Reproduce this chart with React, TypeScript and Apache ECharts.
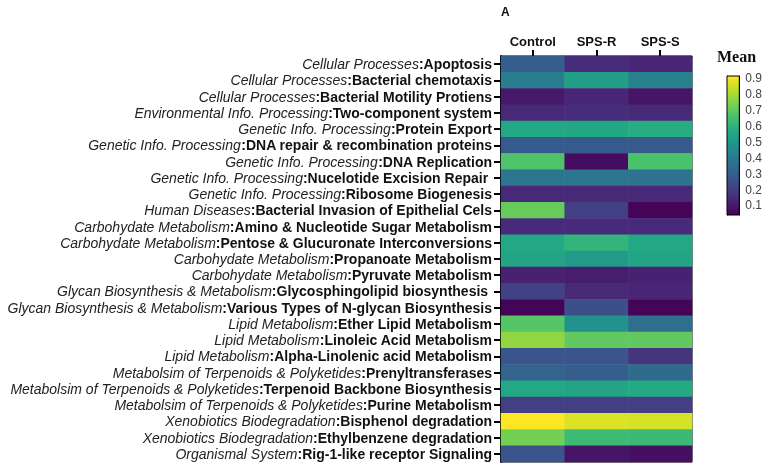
import React, { useEffect, useRef } from "react";
import * as echarts from "echarts";

const groups = ["Control", "SPS-R", "SPS-S"];

const categories = [
  "Cellular Processes",
  "Cellular Processes",
  "Cellular Processes",
  "Environmental Info. Processing",
  "Genetic Info. Processing",
  "Genetic Info. Processing",
  "Genetic Info. Processing",
  "Genetic Info. Processing",
  "Genetic Info. Processing",
  "Human Diseases",
  "Carbohydate Metabolism",
  "Carbohydate Metabolism",
  "Carbohydate Metabolism",
  "Carbohydate Metabolism",
  "Glycan Biosynthesis & Metabolism",
  "Glycan Biosynthesis & Metabolism",
  "Lipid Metabolism",
  "Lipid Metabolism",
  "Lipid Metabolism",
  "Metabolsim of Terpenoids & Polyketides",
  "Metabolsim of Terpenoids & Polyketides",
  "Metabolsim of Terpenoids & Polyketides",
  "Xenobiotics Biodegradation",
  "Xenobiotics Biodegradation",
  "Organismal System",
];

const pathways = [
  "Apoptosis",
  "Bacterial chemotaxis",
  "Bacterial Motility Protiens",
  "Two-component system",
  "Protein Export",
  "DNA repair & recombination proteins",
  "DNA Replication",
  "Nucelotide Excision Repair ",
  "Ribosome Biogenesis",
  "Bacterial Invasion of Epithelial Cels",
  "Amino & Nucleotide Sugar Metabolism",
  "Pentose & Glucuronate Interconversions",
  "Propanoate Metabolism",
  "Pyruvate Metabolism",
  "Glycosphingolipid biosynthesis ",
  "Various Types of N-glycan Biosynthesis",
  "Ether Lipid Metabolism",
  "Linoleic Acid Metabolism",
  "Alpha-Linolenic acid Metabolism",
  "Prenyltransferases",
  "Terpenoid Backbone Biosynthesis",
  "Purine Metabolism",
  "Bisphenol degradation",
  "Ethylbenzene degradation",
  "Rig-1-like receptor Signaling",
];

const controlValues = [
  0.3, 0.41, 0.1, 0.14, 0.565, 0.285, 0.67, 0.38, 0.14, 0.71, 0.145, 0.565, 0.55,
  0.12, 0.21, 0.05, 0.68, 0.77, 0.27, 0.32, 0.565, 0.2, 0.915, 0.73, 0.27,
];
const spsRValues = [
  0.15, 0.53, 0.13, 0.15, 0.56, 0.285, 0.07, 0.38, 0.14, 0.2, 0.145, 0.61, 0.51,
  0.11, 0.14, 0.25, 0.48, 0.7, 0.27, 0.3, 0.55, 0.2, 0.87, 0.635, 0.09,
];
const spsSValues = [
  0.13, 0.42, 0.09, 0.14, 0.58, 0.285, 0.66, 0.37, 0.14, 0.05, 0.145, 0.565, 0.55,
  0.12, 0.13, 0.05, 0.36, 0.7, 0.17, 0.34, 0.57, 0.2, 0.86, 0.63, 0.075,
];

const colorTicks = [0.1, 0.2, 0.3, 0.4, 0.5, 0.6, 0.7, 0.8, 0.9];
const scaleMin = 0.04;
const scaleMax = 0.915;

const viridis = [
  "#440154", "#482475", "#414487", "#355f8d", "#2a788e", "#21918c",
  "#22a884", "#44bf70", "#7ad151", "#bddf26", "#fde725",
];

export default function App() {
  const ref = useRef<HTMLDivElement>(null);
  useEffect(() => {
    if (!ref.current) return;
    const chart = echarts.init(ref.current, null, { renderer: "svg" });
    const allValues = [controlValues, spsRValues, spsSValues];
    const data: number[][] = [];
    allValues.forEach((vals, xi) => {
      vals.forEach((v, yi) => data.push([xi, yi, v]));
    });
    const yLabels = pathways.map((p, i) => `${categories[i]}|${p}`);
    const font = "'Liberation Sans', Arial, sans-serif";
    chart.setOption({
      animation: false,
      title: {
        text: "A",
        left: 496,
        top: 1,
        textStyle: { fontSize: 12, fontWeight: "bold", color: "#111", fontFamily: font },
      },
      graphic: [
        {
          type: "text",
          left: 717,
          top: 48,
          style: {
            text: "Mean",
            font: "bold 16px 'Liberation Serif', 'Times New Roman', serif",
            fill: "#111",
          },
        },
      ],
      grid: [
        {
          left: 501,
          top: 56,
          width: 191,
          height: 406,
          show: true,
          borderColor: "#000",
          borderWidth: 1,
          backgroundColor: "transparent",
        },
        { left: 727, top: 76, width: 16, height: 139 },
      ],
      xAxis: [
        {
          type: "category",
          gridIndex: 0,
          data: groups,
          position: "top",
          axisLine: { show: true, lineStyle: { color: "#000", width: 1 } },
          axisTick: { show: true, alignWithLabel: true, length: 6, lineStyle: { color: "#000", width: 2 } },
          axisLabel: { fontSize: 13, fontWeight: "bold", color: "#111", margin: 8, fontFamily: font },
          splitLine: { show: false },
        },
        {
          type: "category",
          gridIndex: 1,
          data: ["bar"],
          show: false,
        },
      ],
      yAxis: [
        {
          type: "category",
          gridIndex: 0,
          data: yLabels,
          inverse: true,
          axisLine: { show: true, lineStyle: { color: "#000", width: 2 } },
          axisTick: { show: true, alignWithLabel: true, length: 7, lineStyle: { color: "#000", width: 2 } },
          axisLabel: {
            margin: 9,
            interval: 0,
            fontFamily: font,
            formatter: (v: string) => {
              const [c, p] = v.split("|");
              return `{i|${c}}{b|:${p}}`;
            },
            rich: {
              i: { fontStyle: "italic", fontSize: 14, color: "#222", fontFamily: font },
              b: { fontWeight: "bold", fontSize: 14, color: "#111", fontFamily: font },
            },
          },
          splitLine: { show: false },
        },
        {
          type: "value",
          gridIndex: 1,
          min: scaleMin,
          max: scaleMax,
          position: "left",
          axisLine: { show: true, lineStyle: { color: "#000", width: 1 } },
          axisTick: { show: true, inside: true, length: 3, customValues: colorTicks, lineStyle: { color: "#000" } },
          axisLabel: { show: false },
          splitLine: { show: false },
        },
        {
          type: "value",
          gridIndex: 1,
          min: scaleMin,
          max: scaleMax,
          position: "right",
          axisLine: { show: true, lineStyle: { color: "#000", width: 1 } },
          axisTick: { show: false },
          axisLabel: {
            customValues: colorTicks,
            formatter: (v: number) => v.toFixed(1),
            fontSize: 12,
            color: "#444",
            margin: 6,
            fontFamily: font,
          },
          splitLine: { show: false },
        },
      ],
      visualMap: {
        show: false,
        min: scaleMin,
        max: scaleMax,
        seriesIndex: 0,
        dimension: 2,
        inRange: { color: viridis },
      },
      series: [
        {
          type: "heatmap",
          xAxisIndex: 0,
          yAxisIndex: 0,
          data,
          itemStyle: { borderWidth: 0 },
          emphasis: { disabled: true },
        },
        {
          type: "custom",
          xAxisIndex: 1,
          yAxisIndex: 1,
          data: [[0, scaleMax]],
          z: 1,
          renderItem: (params: any, api: any) => {
            const top = api.coord([0, scaleMax]);
            const bottom = api.coord([0, scaleMin]);
            const cs = params.coordSys;
            return {
              type: "rect",
              shape: { x: cs.x, y: top[1], width: cs.width, height: bottom[1] - top[1] },
              style: {
                fill: new echarts.graphic.LinearGradient(
                  0, 1, 0, 0,
                  viridis.map((c, i) => ({ offset: i / (viridis.length - 1), color: c }))
                ),
                stroke: "#000",
                lineWidth: 1,
              },
            };
          },
        },
      ],
    });
    return () => chart.dispose();
  }, []);
  return (
    <div
      ref={ref}
      style={{ position: "fixed", left: 0, top: 0, width: 765, height: 465 }}
    />
  );
}
